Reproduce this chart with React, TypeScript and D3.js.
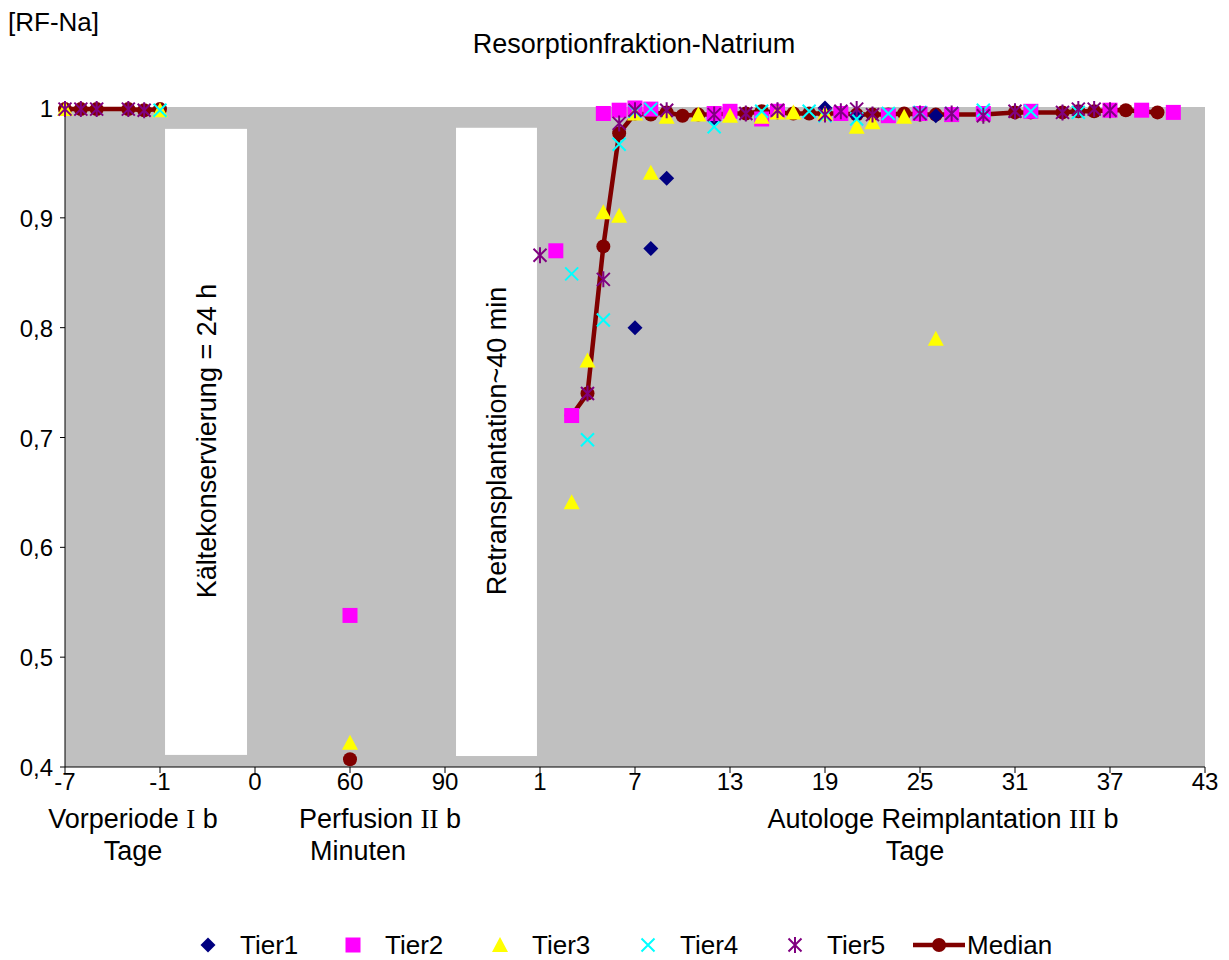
import React from "react";
import * as d3 from "d3";

// ---------- data ----------
// phases: "V" = Vorperiode (Tage -7..-1), "P" = Perfusion (Minuten 0..90), "A" = Autologe Reimplantation (Tage 1..43)
type Pt = [string, number, number];

const xTickLabels = ["-7", "-1", "0", "60", "90", "1", "7", "13", "19", "25", "31", "37", "43"];
const yTicks = [0.4, 0.5, 0.6, 0.7, 0.8, 0.9, 1.0];

const tier1: Pt[] = [
  ["A", 7, 0.80], ["A", 8, 0.872], ["A", 9, 0.936], ["A", 12, 0.991], ["A", 16, 0.998],
  ["A", 19, 1.0], ["A", 21, 0.993], ["A", 26, 0.993],
];
const tier2: Pt[] = [
  ["P", 60, 0.538],
  ["A", 2, 0.87], ["A", 3, 0.72], ["A", 5, 0.995], ["A", 6, 0.998], ["A", 7, 1.0], ["A", 8, 0.999],
  ["A", 12, 0.995], ["A", 13, 0.997], ["A", 15, 0.99], ["A", 16, 0.997], ["A", 20, 0.995],
  ["A", 23, 0.993], ["A", 25, 0.995], ["A", 27, 0.994], ["A", 29, 0.995], ["A", 32, 0.997],
  ["A", 37, 0.998], ["A", 39, 0.998], ["A", 41, 0.996],
];
const tier3: Pt[] = [
  ["V", -7, 0.999], ["V", -1, 0.998],
  ["P", 60, 0.422],
  ["A", 3, 0.641], ["A", 4, 0.77], ["A", 5, 0.905], ["A", 6, 0.902], ["A", 7, 0.995], ["A", 8, 0.941],
  ["A", 9, 0.992], ["A", 11, 0.994], ["A", 13, 0.993], ["A", 15, 0.992], ["A", 16, 0.996],
  ["A", 17, 0.996], ["A", 19, 0.995], ["A", 21, 0.983], ["A", 22, 0.987], ["A", 24, 0.992],
  ["A", 26, 0.79],
];
const tier4: Pt[] = [
  ["V", -1, 0.998],
  ["A", 3, 0.849], ["A", 4, 0.698], ["A", 5, 0.807], ["A", 6, 0.967], ["A", 7, 0.997], ["A", 8, 0.999],
  ["A", 12, 0.983], ["A", 15, 0.997], ["A", 18, 0.997], ["A", 19, 0.993], ["A", 21, 0.99],
  ["A", 23, 0.995], ["A", 25, 0.996], ["A", 27, 0.995], ["A", 29, 0.998], ["A", 32, 0.997],
  ["A", 35, 0.996],
];
const tier5: Pt[] = [
  ["V", -7, 0.999], ["V", -6, 0.999], ["V", -5, 0.999], ["V", -3, 0.999], ["V", -2, 0.998],
  ["A", 1, 0.866], ["A", 4, 0.74], ["A", 5, 0.844], ["A", 6, 0.986], ["A", 7, 0.998], ["A", 9, 0.998],
  ["A", 12, 0.994], ["A", 14, 0.995], ["A", 16, 0.998], ["A", 19, 0.994], ["A", 20, 0.997],
  ["A", 21, 0.999], ["A", 22, 0.994], ["A", 25, 0.995], ["A", 27, 0.995], ["A", 29, 0.993],
  ["A", 31, 0.997], ["A", 34, 0.996], ["A", 35, 0.999], ["A", 36, 0.999], ["A", 37, 0.998],
];
const median: Pt[] = [
  ["V", -7, 0.999], ["V", -6, 0.999], ["V", -5, 0.999], ["V", -3, 0.999], ["V", -2, 0.998], ["V", -1, 0.999],
  ["P", 60, 0.407],
  ["A", 3, 0.72], ["A", 4, 0.74], ["A", 5, 0.874], ["A", 6, 0.977], ["A", 7, 0.995], ["A", 8, 0.994],
  ["A", 9, 0.996], ["A", 10, 0.993], ["A", 11, 0.994], ["A", 12, 0.994], ["A", 13, 0.995],
  ["A", 14, 0.995], ["A", 15, 0.997], ["A", 16, 0.996], ["A", 17, 0.995], ["A", 18, 0.995],
  ["A", 19, 0.995], ["A", 20, 0.995], ["A", 21, 0.994], ["A", 22, 0.994], ["A", 23, 0.994],
  ["A", 24, 0.995], ["A", 25, 0.994], ["A", 26, 0.994], ["A", 27, 0.994], ["A", 29, 0.994],
  ["A", 31, 0.996], ["A", 32, 0.996], ["A", 34, 0.996], ["A", 35, 0.997], ["A", 36, 0.997],
  ["A", 37, 0.998], ["A", 38, 0.998], ["A", 40, 0.996],
];

const seriesNames = ["Tier1", "Tier2", "Tier3", "Tier4", "Tier5"];
const seriesColors = ["#000080", "#FF00FF", "#FFFF00", "#00FFFF", "#800080"];
const seriesData = [tier1, tier2, tier3, tier4, tier5];
const medianColor = "#800000";

// ---------- layout ----------
const W = 1229, H = 960;
const L = 65, R = 1205, T = 108, B = 767;
const FONT = "Liberation Sans, Arial, sans-serif";
const SERIF = "Liberation Serif, Times New Roman, serif";
const FS = 27;

const x = d3.scaleLinear().domain([0, 12]).range([L, R]);
const y = d3.scaleLinear().domain([0.4, 1.0]).range([B, T]);
const perf = d3.scaleLinear().domain([0, 60, 90]).range([2, 3, 4]);
const toU = (p: string, d: number) => (p === "V" ? (d + 7) / 6 : p === "P" ? perf(d) : 5 + (d - 1) / 6);
const px = (pt: Pt) => x(toU(pt[0], pt[1]));
const py = (pt: Pt) => y(pt[2]);

function Marker({ kind, cx, cy, color }: { kind: number; cx: number; cy: number; color: string }) {
  if (kind === 0) {
    const s = 7.5;
    return <path d={`M${cx},${cy - s}L${cx + s},${cy}L${cx},${cy + s}L${cx - s},${cy}Z`} fill={color} />;
  }
  if (kind === 1) {
    const s = 7.5;
    return <rect x={cx - s} y={cy - s} width={2 * s} height={2 * s} fill={color} />;
  }
  if (kind === 2) {
    return <path d={`M${cx},${cy - 8}L${cx + 8},${cy + 7}L${cx - 8},${cy + 7}Z`} fill={color} />;
  }
  if (kind === 3) {
    const s = 6.5;
    return (
      <path d={`M${cx - s},${cy - s}L${cx + s},${cy + s}M${cx + s},${cy - s}L${cx - s},${cy + s}`} stroke={color} strokeWidth={2} />
    );
  }
  const s = 6.5;
  return (
    <path
      d={`M${cx - s},${cy - s}L${cx + s},${cy + s}M${cx + s},${cy - s}L${cx - s},${cy + s}M${cx},${cy - 8}L${cx},${cy + 8}`}
      stroke={color}
      strokeWidth={2}
    />
  );
}

export default function App() {
  const line = d3.line<Pt>().x(px).y(py);
  const medV = median.filter((p) => p[0] === "V");
  const medA = median.filter((p) => p[0] === "A");

  const legendX = [208, 353, 500, 648, 795];
  const legendY = 945;

  return (
    <svg width={W} height={H} style={{ position: "absolute", left: 0, top: 0, background: "#fff" }} fontFamily={FONT}>
      {/* plot background */}
      <rect x={L} y={T - 1} width={R - L} height={B - T + 1} fill="#C0C0C0" />
      {/* white phase boxes */}
      <rect x={x(1.053)} y={y(0.981)} width={x(1.916) - x(1.053)} height={y(0.411) - y(0.981)} fill="#fff" />
      <rect x={x(4.116)} y={y(0.982)} width={x(4.968) - x(4.116)} height={y(0.41) - y(0.982)} fill="#fff" />
      <text transform={`translate(${(x(1.053) + x(1.916)) / 2 + 10},441) rotate(-90)`} textAnchor="middle" fontSize={FS}>
        Kältekonservierung = 24 h
      </text>
      <text transform={`translate(${(x(4.116) + x(4.968)) / 2 + 10},441) rotate(-90)`} textAnchor="middle" fontSize={FS}>
        Retransplantation~40 min
      </text>

      {/* axes */}
      <line x1={L} x2={L} y1={T - 1} y2={B} stroke="#000" strokeWidth={1} />
      <line x1={L} x2={R} y1={B} y2={B} stroke="#000" strokeWidth={1} />
      {yTicks.map((t) => (
        <g key={"y" + t}>
          <line x1={L - 5} x2={L} y1={y(t)} y2={y(t)} stroke="#000" />
          <text x={L - 12} y={y(t) + 9} textAnchor="end" fontSize={24}>
            {t === 1 ? "1" : t.toFixed(1).replace(".", ",")}
          </text>
        </g>
      ))}
      {xTickLabels.map((lab, i) => (
        <g key={"x" + i}>
          <line x1={x(i)} x2={x(i)} y1={B} y2={B + 6} stroke="#000" />
          <text x={x(i)} y={B + 23} textAnchor="middle" fontSize={24}>
            {lab}
          </text>
        </g>
      ))}

      {/* phase labels */}
      <text x={133} y={828} textAnchor="middle" fontSize={FS}>
        Vorperiode <tspan fontFamily={SERIF}>I</tspan> b
      </text>
      <text x={133} y={860} textAnchor="middle" fontSize={FS}>Tage</text>
      <text x={380} y={828} textAnchor="middle" fontSize={FS}>
        Perfusion <tspan fontFamily={SERIF}>II</tspan> b
      </text>
      <text x={358} y={860} textAnchor="middle" fontSize={FS}>Minuten</text>
      <text x={943} y={828} textAnchor="middle" fontSize={FS}>
        Autologe Reimplantation <tspan fontFamily={SERIF}>III</tspan> b
      </text>
      <text x={915} y={860} textAnchor="middle" fontSize={FS}>Tage</text>

      {/* titles */}
      <text x={634} y={53} textAnchor="middle" fontSize={FS}>Resorptionfraktion-Natrium</text>
      <text x={8} y={31} fontSize={26}>[RF-Na]</text>

      {/* median */}
      <path d={line(medV) || ""} fill="none" stroke={medianColor} strokeWidth={4.5} />
      <path d={line(medA) || ""} fill="none" stroke={medianColor} strokeWidth={4.5} />
      {median.map((p, i) => (
        <circle key={"m" + i} cx={px(p)} cy={py(p)} r={7} fill={medianColor} />
      ))}

      {/* tiers */}
      {seriesData.map((data, k) =>
        data.map((p, i) => <Marker key={`s${k}-${i}`} kind={k} cx={px(p)} cy={py(p)} color={seriesColors[k]} />)
      )}

      {/* legend */}
      {seriesNames.map((n, k) => (
        <g key={"l" + n}>
          <Marker kind={k} cx={legendX[k]} cy={legendY} color={seriesColors[k]} />
          <text x={legendX[k] + 32} y={legendY + 9} fontSize={26}>{n}</text>
        </g>
      ))}
      <line x1={913} x2={965} y1={legendY} y2={legendY} stroke={medianColor} strokeWidth={4.5} />
      <circle cx={939} cy={legendY} r={7} fill={medianColor} />
      <text x={967} y={legendY + 9} fontSize={26}>Median</text>
    </svg>
  );
}
